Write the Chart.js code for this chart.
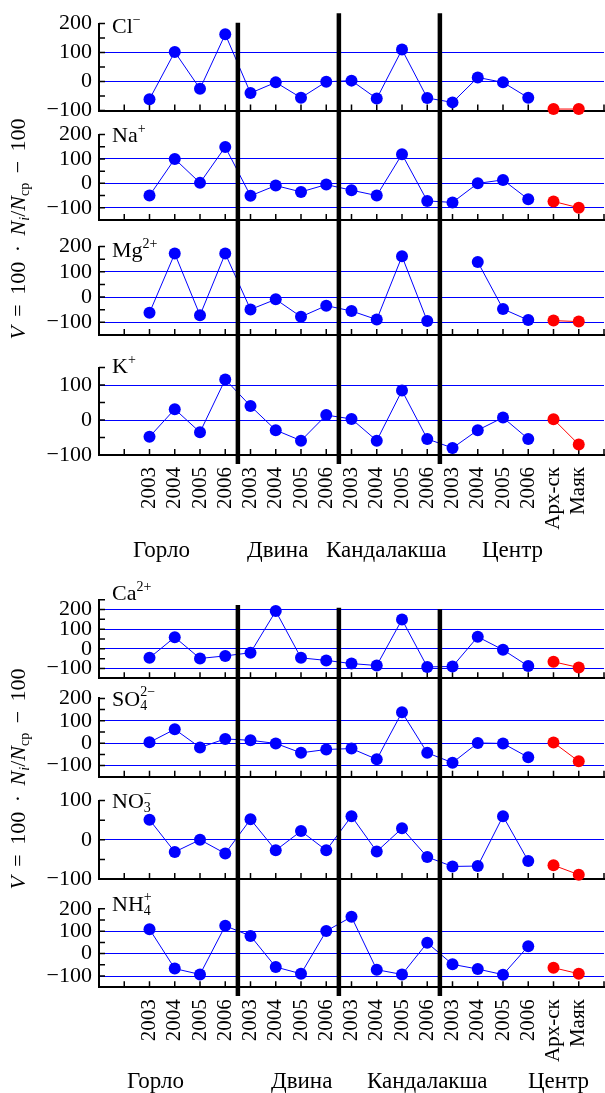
<!DOCTYPE html>
<html>
<head>
<meta charset="utf-8">
<script src="https://cdn.jsdelivr.net/npm/chart.js@4.4.0/dist/chart.umd.min.js"></script>
<style>
html, body { margin: 0; padding: 0; background: #fff; }
#wrap { position: relative; width: 605px; height: 1093px; overflow: hidden; font-family: "Liberation Serif", serif; color: #000; }
canvas { position: absolute; left: 0; }
.txt { position: absolute; white-space: nowrap; line-height: 1; }
.up { font-size: 14px; position: relative; top: -9px; }
.dn { font-size: 14px; position: relative; top: 4px; }
.stk { font-size: 14px; position: relative; top: 4px; }
.stk .ab { position: absolute; left: 0; top: -13px; }
.ytitle { position: absolute; white-space: nowrap; line-height: 1; font-size: 22px; word-spacing: 4px;
          transform: translate(-50%, -50%) rotate(-90deg); }
</style>
</head>
<body>
<div id="wrap"></div>
<script>
// категории по оси X
const groups = ['Горло', 'Двина', 'Кандалакша', 'Центр'];
const years = ['2003', '2004', '2005', '2006'];
const extraStations = ['Арх-ск', 'Маяк'];

// значения V по станциям (синие - 4 района x 4 года, красные - Арх-ск и Маяк)
const clBlue = [-61, 102, -25, 163, -40, -3, -56, -1, 3, -59, 110, -57, -72, 14, -3, -56];
const clRed = [-95, -95];
const naBlue = [-50, 100, 2, 149, -51, -9, -35, -5, -28, -50, 119, -72, -78, 0, 14, -65];
const naRed = [-74, -100];
const mgBlue = [-62, 172, -72, 172, -49, -9, -78, -34, -55, -89, 161, -95, null, 139, -47, -91];
const mgRed = [-93, -97];
const kBlue = [-48, 31, -35, 116, 40, -29, -59, 14, 3, -59, 84, -54, -80, -29, 7, -54];
const kRed = [2, -70];
const caBlue = [-46, 59, -49, -36, -20, 192, -46, -59, -75, -85, 149, -92, -90, 61, -5, -88];
const caRed = [-66, -95];
const so4Blue = [4, 62, -19, 19, 13, -1, -43, -28, -24, -72, 138, -43, -87, 1, -1, -63];
const so4Red = [3, -81];
const no3Blue = [51, -31, 0, -35, 52, -27, 22, -27, 60, -30, 29, -44, -68, -67, 60, -54];
const no3Red = [-65, -89];
const nh4Blue = [109, -67, -93, 124, 79, -60, -90, 101, 164, -72, -93, 48, -48, -69, -94, 33];
const nh4Red = [-63, -90];

// положение границ между районами (в индексах категорий)
const separatorsAt = [5.5, 9.5, 13.5];

// подписи оси X: два пустых места слева, одно справа
const xLabels = ['', ''];
groups.forEach(() => years.forEach(y => xLabels.push(y)));
extraStations.forEach(s => xLabels.push(s));
xLabels.push('');

function padBlue(arr) {
  return [null, null].concat(arr, [null, null, null]);
}
function padRed(arr) {
  const out = new Array(18).fill(null);
  return out.concat(arr, [null]);
}

const W = 605;
const Y_AXIS_W = 99;
const LABEL_AREA = 80;
const FONT = 'Liberation Serif';

const layoutTop = { groupTop: 0, sepFrom: [22.7, 13.3, 13.3], sepTo: 464, labelBase: 557, groupLabelX: [133, 247, 326, 482], titleY: 229 };
const layoutBottom = { groupTop: 590, sepFrom: [605, 607.7, 609.3], sepTo: 996, labelBase: 1088, groupLabelX: [127, 271, 367, 528], titleY: 779 };

const panels = [
  { label: 'Cl<span class="up">−</span>', blue: clBlue, red: clRed, min: -100, max: 200, top: 23.5, bottom: 110.5, base: 33 },
  { label: 'Na<span class="up">+</span>', blue: naBlue, red: naRed, min: -150, max: 200, top: 134.5, bottom: 220, base: 142 },
  { label: 'Mg<span class="up">2+</span>', blue: mgBlue, red: mgRed, min: -150, max: 200, top: 246.5, bottom: 335, base: 257 },
  { label: 'K<span class="up">+</span>', blue: kBlue, red: kRed, min: -100, max: 150, top: 367.5, bottom: 455, base: 373, last: layoutTop },
  { label: 'Ca<span class="up">2+</span>', blue: caBlue, red: caRed, min: -150, max: 250, top: 599.7, bottom: 678.3, base: 600 },
  { label: 'SO<span class="stk">4<span class="ab">2−</span></span>', blue: so4Blue, red: so4Red, min: -150, max: 200, top: 698.4, bottom: 776.8, base: 706 },
  { label: 'NO<span class="stk">3<span class="ab">−</span></span>', blue: no3Blue, red: no3Red, min: -100, max: 100, top: 800.5, bottom: 879, base: 808 },
  { label: 'NH<span class="stk">4<span class="ab">+</span></span>', blue: nh4Blue, red: nh4Red, min: -150, max: 200, top: 908.8, bottom: 987.2, base: 911, last: layoutBottom }
];

const wrap = document.getElementById('wrap');

function fmt(v) {
  return v < 0 ? '−' + Math.abs(v) : String(v);
}

// засечки внутрь области графика
const innerTicks = {
  id: 'innerTicks',
  beforeDatasetsDraw(chart) {
    const { ctx, chartArea: a, scales: { x, y } } = chart;
    ctx.save();
    ctx.strokeStyle = '#000';
    ctx.lineWidth = 1.5;
    ctx.beginPath();
    y.ticks.forEach(t => {
      const py = y.getPixelForValue(t.value);
      ctx.moveTo(a.left, py);
      ctx.lineTo(a.left + 6, py);
    });
    x.ticks.forEach((t, i) => {
      if (i === 0) return;
      const px = x.getPixelForTick(i);
      ctx.moveTo(px, a.bottom);
      ctx.lineTo(px, a.bottom - 6);
    });
    ctx.stroke();
    ctx.restore();
  }
};

function makeSeparators(lay) {
  return {
    id: 'separators',
    afterDraw(chart) {
      const { ctx, scales: { x } } = chart;
      ctx.save();
      ctx.strokeStyle = '#000';
      ctx.lineWidth = 4.5;
      separatorsAt.forEach((at, i) => {
        const px = x.getPixelForValue(at);
        ctx.beginPath();
        ctx.moveTo(px, lay.sepFrom[i] - lay.groupTop);
        ctx.lineTo(px, lay.sepTo - lay.groupTop);
        ctx.stroke();
      });
      ctx.restore();
    }
  };
}

function makePanel(p) {
  const isLast = !!p.last;
  const cTop = isLast ? p.last.groupTop : Math.floor(p.top) - 15;
  const cBottom = isLast ? Math.ceil(p.bottom) + LABEL_AREA + 10 : Math.ceil(p.bottom) + 10;
  const cH = cBottom - cTop;
  const xH = isLast ? LABEL_AREA : 0;

  const canvas = document.createElement('canvas');
  canvas.width = W;
  canvas.height = cH;
  canvas.style.top = cTop + 'px';
  canvas.style.width = W + 'px';
  canvas.style.height = cH + 'px';
  wrap.appendChild(canvas);

  const plugins = [innerTicks];
  if (isLast) plugins.push(makeSeparators(p.last));

  new Chart(canvas, {
    type: 'line',
    data: {
      labels: xLabels,
      datasets: [
        { data: padBlue(p.blue), borderColor: '#0000ff', backgroundColor: '#0000ff', pointBackgroundColor: '#0000ff',
          borderWidth: 1, pointRadius: 6, pointBorderWidth: 0, spanGaps: false, tension: 0, clip: false },
        { data: padRed(p.red), borderColor: '#ff0000', backgroundColor: '#ff0000', pointBackgroundColor: '#ff0000',
          borderWidth: 1, pointRadius: 6, pointBorderWidth: 0, spanGaps: false, tension: 0, clip: false }
      ]
    },
    options: {
      responsive: false,
      animation: false,
      devicePixelRatio: 1,
      events: [],
      layout: { autoPadding: false, padding: { top: p.top - cTop, bottom: cH - (p.bottom - cTop) - xH, left: 0, right: 1 } },
      plugins: { legend: { display: false }, tooltip: { enabled: false }, title: { display: false } },
      scales: {
        x: {
          type: 'category',
          offset: false,
          grid: { display: false, drawTicks: false },
          border: { display: true, color: '#000', width: 2 },
          ticks: { display: isLast, autoSkip: false, maxRotation: 90, minRotation: 90, padding: 12,
                   color: '#000', font: { family: FONT, size: 21 } },
          afterFit: s => { s.height = xH; s.paddingLeft = 0; s.paddingRight = 0; }
        },
        y: {
          min: p.min,
          max: p.max,
          ticks: { stepSize: 50, autoSkip: false, padding: 7, color: '#000', font: { family: FONT, size: 22 },
                   callback: v => (v % 100 === 0 ? fmt(v) : '') },
          grid: {
            drawTicks: false,
            lineWidth: 1,
            color: c => (c.tick && c.tick.value % 100 === 0 && c.tick.value > p.min && c.tick.value < p.max) ? '#0000ff' : 'rgba(0,0,0,0)'
          },
          border: { display: true, color: '#000', width: 2 },
          afterFit: s => { s.width = Y_AXIS_W; s.paddingTop = 0; s.paddingBottom = 0; }
        }
      }
    },
    plugins: plugins
  });
}

panels.forEach(makePanel);

// подписи
function addText(html, left, baseline, size) {
  const d = document.createElement('div');
  d.className = 'txt';
  d.style.fontSize = size + 'px';
  d.style.left = left + 'px';
  d.style.top = (baseline - size * 0.8375) + 'px';
  d.innerHTML = html;
  wrap.appendChild(d);
}

panels.forEach(p => addText(p.label, 112, p.base, 22));

[layoutTop, layoutBottom].forEach(lay => {
  groups.forEach((g, i) => addText(g, lay.groupLabelX[i], lay.labelBase, 23));
  const t = document.createElement('div');
  t.className = 'ytitle';
  t.style.left = '18px';
  t.style.top = lay.titleY + 'px';
  t.innerHTML = '<i>V</i> = 100 · <i>N</i><span class="dn"><i>i</i></span>/<i>N</i><span class="dn">ср</span> − 100';
  wrap.appendChild(t);
});
</script>
</body>
</html>
